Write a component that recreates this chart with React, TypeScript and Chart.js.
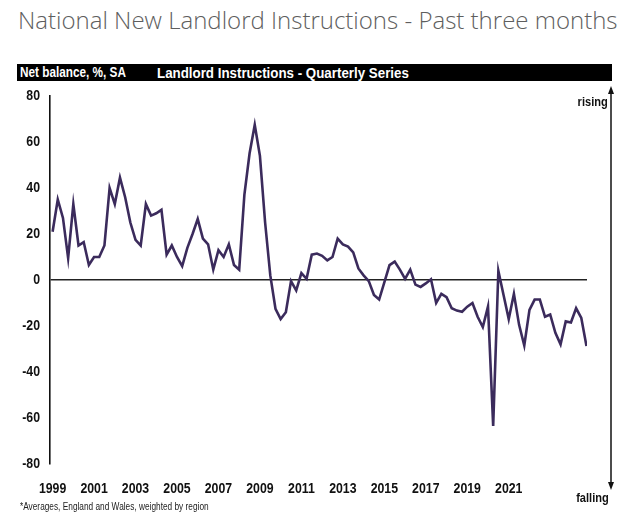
import React, { useEffect, useRef } from 'react';
import { Chart, registerables } from 'chart.js';

Chart.register(...registerables);

// Quarterly series, 1999 Q1 onwards
const quarterValues: number[] = [
  21, 35, 27, 9.5, 33, 15, 16.5, 6.5, 10, 10,
  15, 40, 33, 44.5, 36, 25, 17.5, 15, 33, 28,
  29, 30.5, 11, 15, 10, 6, 14, 20, 26.5, 18,
  15.5, 4.5, 13, 10, 15.5, 6.5, 4.5, 37, 55, 67.5,
  54, 25, 2, -12.5, -17, -14, -0.5, -4.5, 3, 0.5,
  11, 11.5, 10.5, 8.5, 10, 18, 15.5, 14.5, 12, 5,
  2, -0.5, -6.5, -8.5, -1, 6.5, 8, 4.5, 0.5, 4.5,
  -2, -3, -1.5, 0.3, -10, -6, -7.5, -12.3, -13.3, -13.8,
  -11.6, -10, -16, -20.5, -11.5, -63.5, 4, -6.5, -17, -6,
  -19.5, -28.5, -13, -8.5, -8.5, -16, -15, -23, -28, -18,
  -18.5, -12.3, -16.5, -28.7,
];

const yearLabels: string[] = ['1999', '2001', '2003', '2005', '2007', '2009', '2011', '2013', '2015', '2017', '2019', '2021'];
const yearTickIndex: number[] = [0, 8, 16, 24, 32, 40, 48, 56, 64, 72, 80, 88];
const yMin = -80;
const yMax = 80;
const yStep = 20;

const titleText = 'National New Landlord Instructions - Past three months';
const barLeftText = 'Net balance, %, SA';
const barMainText = 'Landlord Instructions - Quarterly Series';
const footnoteText = '*Averages, England and Wales, weighted by region';
const risingText = 'rising';
const fallingText = 'falling';

const FONT = "'Liberation Sans', Arial, sans-serif";
const NARROW_RATIO = 0.82;

// Condense canvas text horizontally to imitate a narrow typeface
const narrowTextPlugin = {
  id: 'narrowText',
  beforeDraw(chart: any) {
    const ctx = chart.ctx;
    if (ctx.__narrowPatched) return;
    const orig = ctx.fillText.bind(ctx);
    ctx.fillText = (t: string, x: number, y: number, mw?: number) => {
      const w = ctx.measureText(t).width * NARROW_RATIO;
      orig(t, x, y, mw !== undefined ? Math.min(mw, w) : w);
    };
    ctx.__narrowPatched = true;
  },
};

const arrowPlugin = {
  id: 'sideArrow',
  afterDraw(chart: any) {
    const ctx = chart.ctx;
    const x = 611;
    const top = 88;
    const bottom = 488;
    ctx.save();
    ctx.strokeStyle = '#111';
    ctx.fillStyle = '#111';
    ctx.lineWidth = 1.5;
    ctx.beginPath();
    ctx.moveTo(x, top + 4);
    ctx.lineTo(x, bottom - 4);
    ctx.stroke();
    ctx.beginPath();
    ctx.moveTo(x, top - 2);
    ctx.lineTo(x - 3, top + 6);
    ctx.lineTo(x + 3, top + 6);
    ctx.closePath();
    ctx.fill();
    ctx.beginPath();
    ctx.moveTo(x, bottom + 2);
    ctx.lineTo(x - 3, bottom - 6);
    ctx.lineTo(x + 3, bottom - 6);
    ctx.closePath();
    ctx.fill();
    ctx.restore();
  },
};

const narrowStyle = (origin: string): React.CSSProperties => ({
  display: 'inline-block',
  transform: `scaleX(${NARROW_RATIO})`,
  transformOrigin: origin,
  whiteSpace: 'nowrap',
});

export default function App() {
  const ref = useRef<HTMLCanvasElement>(null);

  useEffect(() => {
    const tickFont = { family: FONT, size: 15, weight: 'bold' as const };
    const chart = new Chart(ref.current as HTMLCanvasElement, {
      type: 'line',
      data: {
        datasets: [
          {
            data: quarterValues.map((v, i) => ({ x: i, y: v })),
            borderColor: '#3b2b5c',
            borderWidth: 2.6,
            pointRadius: 0,
            tension: 0,
            fill: false,
          },
        ],
      },
      options: {
        animation: false,
        responsive: false,
        maintainAspectRatio: false,
        layout: { padding: { top: 96, right: 49, bottom: 24, left: 0 } },
        plugins: { legend: { display: false }, tooltip: { enabled: false } },
        scales: {
          x: {
            type: 'linear',
            min: -0.5,
            max: 103.1,
            afterBuildTicks: (s: any) => {
              s.ticks = yearTickIndex.map((v) => ({ value: v }));
            },
            ticks: {
              callback: (_v: any, i: number) => yearLabels[i],
              font: tickFont,
              color: '#111',
              padding: 8,
              maxRotation: 0,
              autoSkip: false,
            },
            grid: { display: false },
            border: { display: false },
            afterFit: (s: any) => {
              s.height = 30;
            },
          },
          y: {
            min: yMin,
            max: yMax,
            ticks: { stepSize: yStep, font: tickFont, color: '#111', padding: 10 },
            grid: {
              color: (c: any) => (c.tick && c.tick.value === 0 ? '#222' : 'rgba(0,0,0,0)'),
              lineWidth: 1.6,
              drawTicks: false,
            },
            border: { color: '#111', width: 1.6 },
            afterFit: (s: any) => {
              s.width = 50;
            },
          },
        },
      },
      plugins: [narrowTextPlugin, arrowPlugin],
    });
    return () => chart.destroy();
  }, []);

  return (
    <div style={{ position: 'fixed', left: 0, top: 0, width: 636, height: 518, background: '#fff', overflow: 'hidden' }}>
      <div
        style={{
          position: 'absolute',
          left: 18,
          top: 5,
          fontFamily: "'Open Sans', sans-serif",
          fontWeight: 300,
          fontSize: 24,
          lineHeight: '30px',
          color: '#5e5e5e',
          whiteSpace: 'nowrap',
        }}
      >
        {titleText}
      </div>
      <div style={{ position: 'absolute', left: 17, top: 64, width: 595, height: 17, background: '#000' }}>
        <span
          style={{
            position: 'absolute',
            left: 3,
            top: 0,
            lineHeight: '17px',
            fontFamily: FONT,
            fontWeight: 'bold',
            fontSize: 14,
            color: '#fff',
          }}
        >
          <span style={{ ...narrowStyle('left center'), transform: 'scaleX(0.84)' }}>{barLeftText}</span>
        </span>
        <span
          style={{
            position: 'absolute',
            left: 140,
            top: 0,
            lineHeight: '17px',
            fontFamily: FONT,
            fontWeight: 'bold',
            fontSize: 15.5,
            color: '#fff',
          }}
        >
          <span style={{ ...narrowStyle('left center'), transform: 'scaleX(0.86)' }}>{barMainText}</span>
        </span>
      </div>
      <canvas ref={ref} width={636} height={518} style={{ position: 'absolute', left: 0, top: 0, width: 636, height: 518 }} />
      <div
        style={{
          position: 'absolute',
          right: 28,
          top: 94,
          fontFamily: FONT,
          fontWeight: 'bold',
          fontSize: 13.5,
          color: '#111',
          lineHeight: '16px',
        }}
      >
        <span style={narrowStyle('right center')}>{risingText}</span>
      </div>
      <div
        style={{
          position: 'absolute',
          right: 27,
          top: 490,
          fontFamily: FONT,
          fontWeight: 'bold',
          fontSize: 13.5,
          color: '#111',
          lineHeight: '16px',
        }}
      >
        <span style={narrowStyle('right center')}>{fallingText}</span>
      </div>
      <div
        style={{
          position: 'absolute',
          left: 20,
          top: 499,
          fontFamily: FONT,
          fontSize: 10.5,
          color: '#222',
          lineHeight: '14px',
        }}
      >
        <span style={{ ...narrowStyle('left center'), transform: 'scaleX(0.79)' }}>{footnoteText}</span>
      </div>
    </div>
  );
}
